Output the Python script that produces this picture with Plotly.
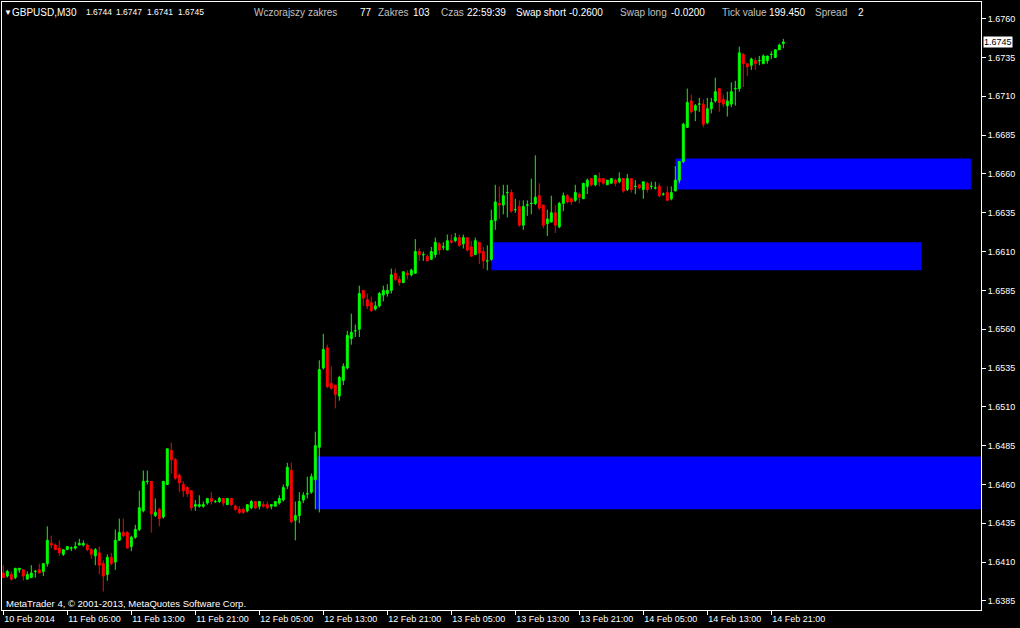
import plotly.graph_objects as go

# ---------------- data (GBPUSD M30, 10 Feb 21:00 .. 14 Feb 22:30) ----------------
opens = [
    1.6403, 1.6401, 1.6402, 1.6400, 1.6405, 1.6405, 1.6399, 1.6400, 1.6404, 1.6405,
    1.6404, 1.6409, 1.6422, 1.6421, 1.6419, 1.6415, 1.6418, 1.6419, 1.6419, 1.6421,
    1.6421, 1.6421, 1.6418, 1.6414, 1.6416, 1.6409, 1.6402, 1.6413, 1.6410, 1.6424,
    1.6429, 1.6429, 1.6420, 1.6426, 1.6431, 1.6443, 1.6462, 1.6462, 1.6440, 1.6444,
    1.6439, 1.6460, 1.6482, 1.6476, 1.6466, 1.6460, 1.6458, 1.6456, 1.6446, 1.6446,
    1.6446, 1.6448, 1.6451, 1.6449, 1.6449, 1.6451, 1.6447, 1.6451, 1.6446, 1.6444,
    1.6444, 1.6443, 1.6445, 1.6449, 1.6446, 1.6447, 1.6447, 1.6446, 1.6446, 1.6448,
    1.6450, 1.6459, 1.6469, 1.6437, 1.6440, 1.6450, 1.6454, 1.6455, 1.6463, 1.6484,
    1.6535, 1.6548, 1.6525, 1.6524, 1.6517, 1.6527, 1.6535, 1.6554, 1.6559, 1.6560,
    1.6585, 1.6579, 1.6577, 1.6573, 1.6575, 1.6582, 1.6583, 1.6585, 1.6596, 1.6592,
    1.6590, 1.6596, 1.6595, 1.6596, 1.6610, 1.6608, 1.6607, 1.6605, 1.6608, 1.6615,
    1.6613, 1.6611, 1.6617, 1.6617, 1.6619, 1.6615, 1.6619, 1.6613, 1.6608, 1.6616,
    1.6610, 1.6604, 1.6605, 1.6630, 1.6641, 1.6640, 1.6648, 1.6648, 1.6637, 1.6639,
    1.6627, 1.6640, 1.6641, 1.6641, 1.6646, 1.6640, 1.6628, 1.6629, 1.6635, 1.6626,
    1.6641, 1.6646, 1.6644, 1.6643, 1.6647, 1.6644, 1.6652, 1.6657, 1.6653, 1.6657,
    1.6657, 1.6653, 1.6654, 1.6656, 1.6655, 1.6657, 1.6650, 1.6657, 1.6652, 1.6653,
    1.6650, 1.6654, 1.6652, 1.6651, 1.6652, 1.6647, 1.6648, 1.6644, 1.6649, 1.6656,
    1.6668, 1.6690, 1.6707, 1.6701, 1.6705, 1.6705, 1.6693, 1.6702, 1.6707, 1.6715,
    1.6708, 1.6704, 1.6705, 1.6715, 1.6715, 1.6737, 1.6731, 1.6730, 1.6733, 1.6733,
    1.6731, 1.6733, 1.6737, 1.6735, 1.6740, 1.6744,
]
highs = [
    1.6408, 1.6405, 1.6404, 1.6406, 1.6406, 1.6405, 1.6404, 1.6408, 1.6405, 1.6409,
    1.6409, 1.6433, 1.6427, 1.6422, 1.6424, 1.6418, 1.6420, 1.6420, 1.6423, 1.6425,
    1.6424, 1.6422, 1.6419, 1.6419, 1.6420, 1.6411, 1.6415, 1.6416, 1.6431, 1.6438,
    1.6438, 1.6430, 1.6427, 1.6434, 1.6456, 1.6469, 1.6469, 1.6462, 1.6451, 1.6445,
    1.6462, 1.6483, 1.6487, 1.6477, 1.6467, 1.6462, 1.6459, 1.6456, 1.6450, 1.6453,
    1.6449, 1.6451, 1.6455, 1.6450, 1.6452, 1.6451, 1.6451, 1.6451, 1.6447, 1.6446,
    1.6445, 1.6447, 1.6450, 1.6449, 1.6449, 1.6449, 1.6449, 1.6447, 1.6449, 1.6453,
    1.6460, 1.6474, 1.6474, 1.6449, 1.6455, 1.6455, 1.6465, 1.6467, 1.6494, 1.6540,
    1.6557, 1.6550, 1.6536, 1.6524, 1.6530, 1.6538, 1.6559, 1.6570, 1.6563, 1.6588,
    1.6585, 1.6583, 1.6581, 1.6578, 1.6584, 1.6588, 1.6589, 1.6599, 1.6599, 1.6594,
    1.6597, 1.6598, 1.6599, 1.6618, 1.6612, 1.6610, 1.6608, 1.6613, 1.6619, 1.6616,
    1.6616, 1.6621, 1.6621, 1.6622, 1.6621, 1.6621, 1.6619, 1.6617, 1.6619, 1.6616,
    1.6613, 1.6614, 1.6637, 1.6653, 1.6652, 1.6653, 1.6653, 1.6650, 1.6644, 1.6643,
    1.6643, 1.6643, 1.6657, 1.6672, 1.6654, 1.6640, 1.6637, 1.6646, 1.6640, 1.6642,
    1.6648, 1.6647, 1.6645, 1.6653, 1.6648, 1.6654, 1.6657, 1.6657, 1.6659, 1.6661,
    1.6657, 1.6656, 1.6657, 1.6657, 1.6661, 1.6657, 1.6660, 1.6657, 1.6656, 1.6653,
    1.6655, 1.6655, 1.6655, 1.6655, 1.6654, 1.6648, 1.6652, 1.6652, 1.6665, 1.6668,
    1.6693, 1.6715, 1.6711, 1.6705, 1.6709, 1.6708, 1.6709, 1.6709, 1.6722, 1.6715,
    1.6711, 1.6713, 1.6719, 1.6720, 1.6742, 1.6738, 1.6731, 1.6735, 1.6735, 1.6736,
    1.6737, 1.6736, 1.6739, 1.6740, 1.6744, 1.6747,
]
lows = [
    1.6400, 1.6400, 1.6398, 1.6399, 1.6403, 1.6398, 1.6399, 1.6400, 1.6400, 1.6403,
    1.6401, 1.6407, 1.6419, 1.6418, 1.6414, 1.6414, 1.6418, 1.6417, 1.6418, 1.6421,
    1.6420, 1.6417, 1.6412, 1.6408, 1.6402, 1.6391, 1.6398, 1.6408, 1.6405, 1.6424,
    1.6426, 1.6419, 1.6417, 1.6425, 1.6430, 1.6442, 1.6460, 1.6429, 1.6439, 1.6433,
    1.6438, 1.6460, 1.6467, 1.6463, 1.6455, 1.6452, 1.6452, 1.6443, 1.6443, 1.6445,
    1.6445, 1.6447, 1.6447, 1.6448, 1.6448, 1.6446, 1.6447, 1.6446, 1.6443, 1.6441,
    1.6441, 1.6442, 1.6444, 1.6444, 1.6444, 1.6445, 1.6444, 1.6444, 1.6446, 1.6447,
    1.6449, 1.6457, 1.6435, 1.6424, 1.6435, 1.6448, 1.6451, 1.6454, 1.6444, 1.6442,
    1.6534, 1.6522, 1.6521, 1.6509, 1.6514, 1.6524, 1.6534, 1.6550, 1.6555, 1.6555,
    1.6575, 1.6573, 1.6571, 1.6572, 1.6574, 1.6578, 1.6581, 1.6583, 1.6591, 1.6588,
    1.6590, 1.6592, 1.6594, 1.6596, 1.6604, 1.6604, 1.6604, 1.6605, 1.6606, 1.6608,
    1.6611, 1.6611, 1.6615, 1.6616, 1.6613, 1.6612, 1.6610, 1.6607, 1.6608, 1.6602,
    1.6599, 1.6598, 1.6604, 1.6624, 1.6631, 1.6634, 1.6632, 1.6635, 1.6635, 1.6626,
    1.6624, 1.6633, 1.6634, 1.6640, 1.6637, 1.6625, 1.6620, 1.6629, 1.6622, 1.6625,
    1.6636, 1.6641, 1.6640, 1.6642, 1.6641, 1.6644, 1.6647, 1.6652, 1.6652, 1.6652,
    1.6653, 1.6653, 1.6654, 1.6652, 1.6654, 1.6648, 1.6649, 1.6648, 1.6647, 1.6650,
    1.6644, 1.6648, 1.6650, 1.6650, 1.6645, 1.6646, 1.6643, 1.6643, 1.6649, 1.6654,
    1.6667, 1.6690, 1.6699, 1.6694, 1.6700, 1.6690, 1.6692, 1.6699, 1.6706, 1.6700,
    1.6703, 1.6697, 1.6703, 1.6704, 1.6713, 1.6716, 1.6723, 1.6727, 1.6727, 1.6730,
    1.6731, 1.6731, 1.6734, 1.6735, 1.6740, 1.6741,
]
closes = [
    1.6400, 1.6404, 1.6399, 1.6406, 1.6406, 1.6401, 1.6402, 1.6403, 1.6404, 1.6403,
    1.6409, 1.6424, 1.6421, 1.6418, 1.6416, 1.6418, 1.6420, 1.6419, 1.6420, 1.6422,
    1.6422, 1.6418, 1.6415, 1.6418, 1.6408, 1.6401, 1.6413, 1.6409, 1.6424, 1.6429,
    1.6427, 1.6419, 1.6426, 1.6431, 1.6445, 1.6462, 1.6462, 1.6441, 1.6442, 1.6438,
    1.6462, 1.6483, 1.6476, 1.6464, 1.6461, 1.6456, 1.6454, 1.6445, 1.6447, 1.6447,
    1.6447, 1.6451, 1.6449, 1.6449, 1.6451, 1.6448, 1.6451, 1.6447, 1.6444, 1.6442,
    1.6442, 1.6447, 1.6449, 1.6445, 1.6449, 1.6446, 1.6445, 1.6447, 1.6449, 1.6451,
    1.6458, 1.6471, 1.6436, 1.6440, 1.6449, 1.6453, 1.6454, 1.6465, 1.6485, 1.6534,
    1.6547, 1.6523, 1.6522, 1.6518, 1.6529, 1.6536, 1.6556, 1.6558, 1.6559, 1.6583,
    1.6580, 1.6575, 1.6572, 1.6575, 1.6583, 1.6585, 1.6585, 1.6595, 1.6592, 1.6590,
    1.6597, 1.6595, 1.6598, 1.6610, 1.6608, 1.6608, 1.6604, 1.6610, 1.6616, 1.6611,
    1.6613, 1.6617, 1.6616, 1.6619, 1.6614, 1.6619, 1.6611, 1.6607, 1.6617, 1.6609,
    1.6604, 1.6604, 1.6630, 1.6642, 1.6640, 1.6646, 1.6648, 1.6636, 1.6637, 1.6627,
    1.6639, 1.6640, 1.6641, 1.6645, 1.6638, 1.6627, 1.6631, 1.6635, 1.6627, 1.6641,
    1.6646, 1.6642, 1.6642, 1.6648, 1.6645, 1.6654, 1.6656, 1.6653, 1.6659, 1.6655,
    1.6654, 1.6656, 1.6657, 1.6654, 1.6657, 1.6649, 1.6657, 1.6650, 1.6652, 1.6651,
    1.6655, 1.6650, 1.6652, 1.6651, 1.6646, 1.6647, 1.6643, 1.6648, 1.6656, 1.6668,
    1.6692, 1.6706, 1.6700, 1.6704, 1.6705, 1.6692, 1.6702, 1.6706, 1.6713, 1.6706,
    1.6705, 1.6707, 1.6713, 1.6715, 1.6738, 1.6731, 1.6729, 1.6734, 1.6731, 1.6733,
    1.6736, 1.6736, 1.6737, 1.6740, 1.6743, 1.6745,
]

tick_labels = ["10 Feb 2014", "11 Feb 05:00", "11 Feb 13:00", "11 Feb 21:00",
               "12 Feb 05:00", "12 Feb 13:00", "12 Feb 21:00", "13 Feb 05:00",
               "13 Feb 13:00", "13 Feb 21:00", "14 Feb 05:00", "14 Feb 13:00",
               "14 Feb 21:00"]
tick_bars = [0, 16, 32, 48, 64, 80, 96, 112, 128, 144, 160, 176, 192]

price_ticks = [1.6385, 1.6410, 1.6435, 1.6460, 1.6485, 1.6510, 1.6535, 1.6560,
               1.6585, 1.6610, 1.6635, 1.6660, 1.6685, 1.6710, 1.6735, 1.6760]

# supply / demand zones (bar index start/end, price low/high)
zone_start = [78, 122, 168]
zone_end = [244.4, 229.6, 241.9]
zone_low = [1.6444, 1.6598, 1.6650]
zone_high = [1.6478, 1.6616, 1.6670]

symbol = "GBPUSD,M30"
ohlc_text = ["1.6744", "1.6747", "1.6741", "1.6745"]
last_price = 1.6745

# ---------------- figure ----------------
bars = list(range(len(opens)))
bull = [i for i in bars if closes[i] >= opens[i]]
bear = [i for i in bars if closes[i] < opens[i]]

GREEN = "#00FF00"
RED = "#FF0000"


def candle_trace(idx, color):
    return go.Candlestick(
        x=[bars[i] for i in idx],
        open=[opens[i] for i in idx],
        high=[highs[i] for i in idx],
        low=[lows[i] for i in idx],
        close=[closes[i] for i in idx],
        increasing=dict(line=dict(color=color, width=1), fillcolor=color),
        decreasing=dict(line=dict(color=color, width=1), fillcolor=color),
        whiskerwidth=0,
        hoverinfo="skip",
        showlegend=False,
    )


fig = go.Figure([candle_trace(bull, GREEN), candle_trace(bear, RED)])

for s, e, lo, hi in zip(zone_start, zone_end, zone_low, zone_high):
    fig.add_shape(type="rect", xref="x", yref="y", x0=s, x1=e, y0=lo, y1=hi,
                  fillcolor="#0000FF", line=dict(width=0), layer="below")

FONT = "Liberation Sans, Arial, sans-serif"
GREY = "#C0C0C0"


def label(text, px, py, size, color="white"):
    fig.add_annotation(text=text, xref="paper", yref="paper", x=0, y=1,
                       xshift=px - 2, yshift=-(py - 2), xanchor="left",
                       yanchor="middle", showarrow=False, borderpad=0,
                       font=dict(family=FONT, size=size, color=color))


label("\u25BC", 3, 12, 8)
label(symbol, 11, 12, 10)
for txt, px in zip(ohlc_text, [85, 115, 146, 177]):
    label(txt, px, 12, 8.5)

header = [("Wczorajszy zakres", 253, GREY), ("77", 359, "white"),
          ("Zakres", 377, GREY), ("103", 412, "white"), ("Czas", 440, GREY),
          ("22:59:39", 466, "white"), ("Swap short", 515, "white"),
          ("-0.2600", 568, "white"), ("Swap long", 619, GREY),
          ("-0.0200", 670, "white"), ("Tick value", 721, GREY),
          ("199.450", 768, "white"), ("Spread", 814, GREY), ("2", 857, "white")]
for txt, px, col in header:
    label(txt, px, 12, 10, col)

label("MetaTrader 4, \u00a9 2001-2013, MetaQuotes Software Corp.", 5, 603, 9.5)

fig.add_annotation(text="1.6745", xref="paper", yref="y", x=1, y=last_price,
                   xanchor="left", yanchor="middle", xshift=2, showarrow=False,
                   bgcolor="white", borderpad=0,
                   font=dict(family=FONT, size=9, color="black"))

fig.update_layout(
    template="none",
    width=1020, height=628,
    margin=dict(l=2, r=39, t=2, b=18, pad=0),
    paper_bgcolor="black", plot_bgcolor="black",
    showlegend=False,
    boxgap=0.3, boxgroupgap=0.3,
    xaxis=dict(range=[-0.325, 244.425], showgrid=False, zeroline=False,
               showline=True, mirror=True, linecolor="white", linewidth=1,
               tickmode="array", tickvals=tick_bars, ticktext=tick_labels,
               ticks="outside", ticklen=4, tickcolor="white", tickwidth=1,
               ticklabelposition="outside right",
               tickfont=dict(family=FONT, size=9, color="white"),
               rangeslider=dict(visible=False), automargin=False, fixedrange=True),
    yaxis=dict(side="right", range=[1.637913, 1.677076], showgrid=False,
               zeroline=False, showline=True, mirror=True, linecolor="white",
               linewidth=1, tickmode="array", tickvals=price_ticks,
               tickformat=".4f", ticks="outside", ticklen=4, tickcolor="white",
               tickwidth=1, tickfont=dict(family=FONT, size=9, color="white"),
               automargin=False, fixedrange=True),
)

fig.write_html("out.html", config={"displayModeBar": False},
               post_script="document.body.style.margin='0';document.body.style.background='black';")
